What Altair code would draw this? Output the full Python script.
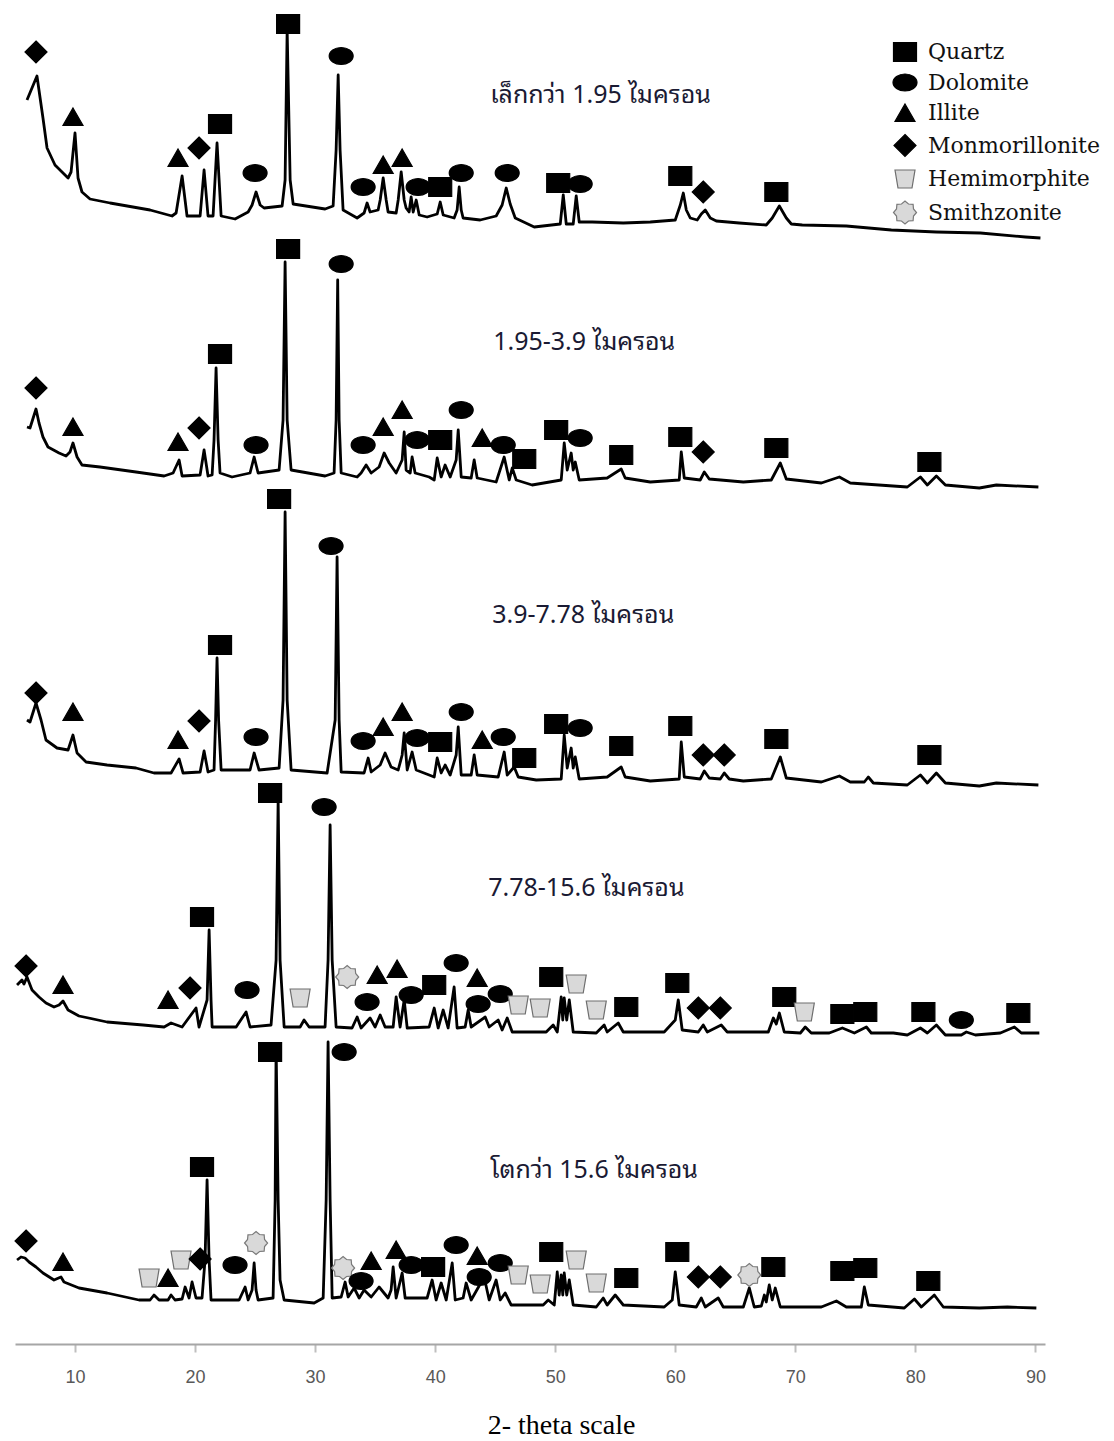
import altair as alt
import pandas as pd

# ---------------- data ----------------
# (2-theta in degrees, stacked intensity in arbitrary units)
P1_trace = [(6.00,1244),(6.83,1268),(7.33,1226),(7.67,1196),(8.33,1179),(9.42,1166),(9.67,1172),(10.00,1211),(10.25,1166),(10.58,1152),(11.25,1145),(12.92,1141),(16.25,1134),(18.08,1128),(18.42,1131),(18.92,1168),(19.33,1128),(20.42,1128),(20.75,1174),(21.08,1128),(21.50,1128),(21.83,1201),(22.17,1128),(23.33,1125),(24.42,1132),(24.75,1139),(25.08,1152),(25.42,1139),(25.75,1136),(27.25,1138),(27.50,1164),(27.67,1314),(27.92,1164),(28.17,1140),(30.83,1135),(31.50,1138),(31.75,1194),(31.92,1269),(32.08,1194),(32.33,1134),(33.50,1126),(34.08,1131),(34.33,1141),(34.58,1132),(35.25,1134),(35.42,1144),(35.67,1166),(35.92,1144),(36.08,1132),(36.75,1131),(36.92,1144),(37.17,1172),(37.42,1144),(37.58,1136),(37.83,1132),(38.00,1147),(38.17,1132),(38.42,1144),(38.67,1129),(39.33,1127),(40.17,1130),(40.42,1142),(40.67,1129),(41.58,1126),(41.83,1134),(42.00,1157),(42.17,1134),(42.33,1126),(43.75,1124),(45.08,1128),(45.58,1139),(45.92,1156),(46.25,1140),(46.67,1126),(48.25,1117),(50.42,1120),(50.67,1149),(50.92,1120),(51.50,1120),(51.75,1148),(52.00,1122),(53.08,1122),(55.67,1121),(57.92,1122),(60.00,1124),(60.42,1139),(60.67,1151),(60.92,1134),(61.25,1126),(61.83,1124),(62.17,1130),(62.50,1134),(62.92,1126),(63.42,1123),(65.33,1121),(67.58,1119),(68.08,1126),(68.67,1138),(69.25,1126),(69.67,1120),(70.58,1119),(74.25,1118),(78.00,1114),(81.75,1112),(85.42,1111),(89.17,1107),(90.42,1106)]

P2_trace = [(6.00,917),(6.25,916),(6.75,935),(7.00,921),(7.33,907),(7.75,897),(8.67,891),(9.25,888),(9.58,892),(9.83,901),(10.17,887),(10.58,879),(12.08,877),(15.08,872),(17.42,868),(18.17,871),(18.67,884),(18.92,868),(20.42,869),(20.75,894),(21.08,868),(21.42,869),(21.58,904),(21.75,976),(21.92,904),(22.08,871),(23.08,867),(24.58,871),(24.92,887),(25.25,871),(27.00,874),(27.33,924),(27.50,1082),(27.67,924),(28.00,874),(30.83,868),(31.58,871),(31.75,924),(31.88,1064),(32.00,924),(32.17,871),(33.50,867),(33.83,871),(34.25,879),(34.67,871),(35.33,877),(35.75,891),(36.17,881),(36.75,871),(37.25,884),(37.42,912),(37.58,874),(37.92,871),(38.08,887),(38.33,871),(39.50,867),(39.92,864),(40.17,886),(40.50,867),(40.83,879),(41.25,867),(41.75,884),(41.92,914),(42.17,867),(43.00,866),(43.25,884),(43.50,866),(45.08,862),(45.75,887),(46.17,864),(46.42,876),(46.75,864),(48.08,859),(50.50,864),(50.75,901),(51.00,874),(51.33,891),(51.50,874),(51.67,882),(52.00,864),(54.33,866),(55.50,875),(55.83,866),(57.92,862),(60.33,864),(60.50,892),(60.75,866),(62.08,864),(62.42,872),(62.83,865),(65.67,862),(68.00,864),(68.75,881),(69.25,865),(72.17,861),(73.67,867),(74.58,861),(79.33,857),(80.42,867),(81.00,859),(81.75,868),(82.50,859),(85.33,856),(86.75,859),(90.25,857)]

P3_trace = [(6.00,624),(6.25,622),(6.75,641),(7.17,624),(7.58,604),(8.50,596),(9.42,594),(9.83,609),(10.17,591),(10.92,582),(12.67,579),(15.08,576),(16.58,571),(18.00,571),(18.67,585),(19.00,571),(20.42,572),(20.75,593),(21.08,572),(21.58,574),(21.71,624),(21.83,686),(21.96,624),(22.17,574),(24.58,574),(24.92,591),(25.33,574),(27.00,576),(27.33,644),(27.50,832),(27.67,644),(28.00,574),(31.00,571),(31.67,624),(31.83,787),(32.00,624),(32.17,572),(34.08,571),(34.42,586),(34.67,572),(35.42,579),(35.83,591),(36.33,577),(36.92,574),(37.25,589),(37.42,611),(37.67,574),(38.08,592),(38.42,574),(39.50,569),(39.92,567),(40.17,586),(40.50,571),(40.83,579),(41.25,569),(41.75,589),(41.92,617),(42.17,569),(43.00,569),(43.25,589),(43.50,569),(45.25,567),(45.75,592),(46.00,569),(46.58,577),(46.92,567),(48.42,564),(50.50,565),(50.75,609),(51.00,576),(51.33,596),(51.50,576),(51.67,587),(52.00,565),(54.33,567),(55.50,577),(55.83,567),(57.92,563),(60.33,565),(60.50,602),(60.75,567),(62.08,565),(62.42,573),(62.83,566),(63.75,565),(64.08,571),(64.50,565),(65.67,563),(68.00,565),(68.75,587),(69.25,566),(72.17,562),(73.67,568),(74.58,562),(75.75,562),(76.08,567),(76.50,561),(79.33,559),(80.42,569),(81.00,561),(81.75,571),(82.50,561),(85.33,558),(86.75,561),(90.25,559)]

P4_trace = [(5.17,359),(5.58,364),(5.75,360),(6.00,367),(6.42,354),(7.00,347),(7.58,341),(8.25,337),(8.67,339),(9.00,343),(9.42,334),(10.33,328),(12.67,322),(15.67,319),(17.42,317),(18.00,321),(18.92,317),(20.08,336),(20.33,317),(21.00,344),(21.17,414),(21.33,344),(21.42,317),(23.42,317),(24.25,332),(24.58,317),(26.33,319),(26.75,384),(26.92,544),(27.08,384),(27.42,317),(28.75,317),(29.08,324),(29.50,317),(30.83,317),(31.08,384),(31.25,519),(31.42,384),(31.75,317),(33.08,316),(33.50,327),(33.83,316),(34.58,326),(35.00,317),(35.42,329),(35.83,317),(36.50,317),(36.75,347),(37.08,317),(37.42,344),(37.67,316),(39.50,317),(39.92,336),(40.25,316),(40.67,334),(41.08,316),(41.58,357),(41.83,316),(42.50,317),(42.75,334),(43.00,317),(44.17,327),(44.50,317),(45.25,324),(45.58,314),(46.00,326),(46.42,312),(49.25,312),(49.83,319),(50.17,312),(50.50,347),(50.63,324),(50.75,346),(50.96,324),(51.17,344),(51.50,312),(53.42,311),(54.08,319),(54.33,312),(55.25,321),(55.67,312),(59.08,312),(60.00,324),(60.25,344),(60.58,314),(61.92,312),(62.33,319),(62.67,312),(63.83,319),(64.33,312),(67.75,312),(68.17,326),(68.42,320),(68.67,331),(69.08,312),(70.42,311),(70.83,317),(71.33,311),(72.83,311),(73.92,316),(74.92,311),(75.92,317),(76.33,311),(78.17,311),(79.33,309),(80.42,316),(81.00,311),(81.75,319),(82.50,309),(83.83,309),(84.25,312),(85.00,309),(87.08,311),(88.25,317),(88.83,311),(90.33,311)]

P5_trace = [(5.17,84),(5.50,87),(5.83,86),(6.17,82),(6.75,77),(7.33,71),(8.25,64),(8.83,67),(9.08,62),(10.33,56),(12.67,51),(15.33,44),(16.25,44),(16.58,49),(17.00,44),(17.75,44),(18.00,49),(18.33,44),(18.92,45),(19.17,57),(19.50,46),(19.75,62),(20.08,46),(20.58,46),(20.83,84),(21.00,164),(21.17,84),(21.33,44),(23.67,44),(24.17,57),(24.42,44),(24.75,54),(24.92,81),(25.08,54),(25.25,44),(26.50,46),(26.67,144),(26.75,299),(26.92,144),(27.08,64),(27.25,54),(27.42,44),(29.92,41),(30.67,46),(30.92,144),(31.08,302),(31.25,144),(31.42,46),(32.17,47),(32.50,62),(32.75,47),(33.25,56),(33.67,46),(34.08,54),(34.67,47),(35.33,57),(36.08,46),(36.33,54),(36.50,77),(36.75,46),(37.25,71),(37.50,46),(39.33,46),(39.75,64),(40.08,44),(40.50,61),(40.92,44),(41.42,81),(41.67,44),(42.33,46),(42.58,61),(43.00,44),(44.08,67),(44.50,44),(45.08,64),(45.42,44),(45.83,51),(46.33,39),(49.00,39),(49.42,44),(49.92,39),(50.17,72),(50.33,49),(50.50,69),(50.63,49),(50.75,71),(50.96,49),(51.17,64),(51.50,39),(53.42,37),(54.00,46),(54.33,39),(55.00,49),(55.67,39),(59.08,37),(59.75,44),(60.00,72),(60.33,39),(61.75,37),(62.17,46),(62.50,37),(63.58,46),(64.00,37),(65.67,37),(66.17,56),(66.58,37),(67.17,38),(67.42,49),(67.58,42),(67.83,59),(68.08,44),(68.33,56),(68.75,37),(72.17,37),(73.42,43),(74.25,37),(75.50,37),(75.75,57),(76.08,39),(79.08,36),(79.92,45),(80.50,37),(81.58,49),(82.33,37),(85.33,36),(87.67,37),(90.08,36)]

# phase markers: (mineral, 2-theta, intensity)
M1 = [("Monmorillonite",6.75,1292),("Illite",9.83,1227),("Illite",18.58,1186),("Monmorillonite",20.33,1196),("Quartz",22.08,1220),("Dolomite",25.00,1171),("Quartz",27.75,1320),("Dolomite",32.17,1288),("Dolomite",34.00,1157),("Illite",35.67,1179),("Illite",37.25,1186),("Dolomite",38.58,1157),("Quartz",40.42,1157),("Dolomite",42.17,1171),("Dolomite",46.00,1171),("Quartz",50.25,1161),("Dolomite",52.08,1160),("Quartz",60.42,1168),("Monmorillonite",62.33,1152),("Quartz",68.42,1152)]
M2 = [("Monmorillonite",6.75,956),("Illite",9.83,917),("Illite",18.58,902),("Monmorillonite",20.33,916),("Quartz",22.08,990),("Dolomite",25.08,899),("Quartz",27.75,1095),("Dolomite",32.17,1080),("Dolomite",34.00,899),("Illite",35.67,917),("Illite",37.25,934),("Dolomite",38.50,904),("Quartz",40.42,904),("Dolomite",42.17,934),("Illite",43.92,906),("Dolomite",45.67,899),("Quartz",47.42,885),("Quartz",50.08,914),("Dolomite",52.08,906),("Quartz",55.50,889),("Quartz",60.42,907),("Monmorillonite",62.33,892),("Quartz",68.42,896),("Quartz",81.17,882)]
M3 = [("Monmorillonite",6.75,651),("Illite",9.83,632),("Illite",18.58,604),("Monmorillonite",20.33,623),("Quartz",22.08,699),("Dolomite",25.08,607),("Quartz",27.00,845),("Dolomite",31.33,798),("Dolomite",34.00,603),("Illite",35.67,617),("Illite",37.25,632),("Dolomite",38.50,606),("Quartz",40.42,602),("Dolomite",42.17,632),("Illite",43.92,604),("Dolomite",45.67,607),("Quartz",47.42,586),("Quartz",50.08,620),("Dolomite",52.08,616),("Quartz",55.50,598),("Quartz",60.42,618),("Monmorillonite",62.33,589),("Monmorillonite",64.08,589),("Quartz",68.42,605),("Quartz",81.17,589)]
M4 = [("Monmorillonite",5.92,378),("Illite",9.00,359),("Illite",17.75,344),("Monmorillonite",19.58,356),("Quartz",20.58,427),("Dolomite",24.33,354),("Quartz",26.25,551),("Hemimorphite",28.75,346),("Dolomite",30.75,537),("Smithzonite",32.67,367),("Dolomite",34.33,342),("Illite",35.17,369),("Illite",36.83,375),("Dolomite",38.00,349),("Quartz",39.92,359),("Dolomite",41.75,381),("Illite",43.50,366),("Dolomite",43.58,340),("Dolomite",45.42,350),("Hemimorphite",46.92,339),("Hemimorphite",48.75,336),("Quartz",49.67,367),("Hemimorphite",51.75,360),("Hemimorphite",53.42,334),("Quartz",55.92,337),("Quartz",60.17,361),("Monmorillonite",61.92,336),("Monmorillonite",63.75,336),("Quartz",69.08,347),("Hemimorphite",70.75,332),("Quartz",73.92,330),("Quartz",75.83,332),("Quartz",80.67,332),("Dolomite",83.83,324),("Quartz",88.58,331)]
M5 = [("Monmorillonite",5.92,103),("Illite",9.00,82),("Hemimorphite",16.17,66),("Illite",17.75,66),("Hemimorphite",18.83,84),("Monmorillonite",20.42,85),("Quartz",20.58,177),("Dolomite",23.33,79),("Smithzonite",25.08,101),("Quartz",26.25,292),("Dolomite",32.42,292),("Smithzonite",32.33,76),("Dolomite",33.83,63),("Illite",34.67,83),("Illite",36.75,94),("Dolomite",38.00,79),("Quartz",39.83,77),("Dolomite",41.75,99),("Illite",43.50,88),("Dolomite",43.67,67),("Dolomite",45.42,81),("Hemimorphite",46.92,69),("Hemimorphite",48.75,60),("Quartz",49.67,92),("Hemimorphite",51.75,84),("Hemimorphite",53.42,61),("Quartz",55.92,66),("Quartz",60.17,92),("Monmorillonite",61.92,67),("Monmorillonite",63.75,67),("Smithzonite",66.17,69),("Quartz",68.17,77),("Quartz",73.92,73),("Quartz",75.83,76),("Quartz",81.08,63)]

pattern_labels = ["เล็กกว่า 1.95 ไมครอน", "1.95-3.9 ไมครอน", "3.9-7.78 ไมครอน",
                  "7.78-15.6 ไมครอน", "โตกว่า 15.6 ไมครอน"]
label_2theta = [44.58, 44.83, 44.75, 44.42, 44.58]
label_intensity = [1249, 1002, 729, 456, 174]

minerals = ["Quartz", "Dolomite", "Illite", "Monmorillonite", "Hemimorphite", "Smithzonite"]
x_ticks = [10, 20, 30, 40, 50, 60, 70, 80, 90]

# ---------------- tables ----------------
traces = [P1_trace, P2_trace, P3_trace, P4_trace, P5_trace]
rows = []
for p, tr in enumerate(traces):
    for i, (t, v) in enumerate(tr):
        rows.append({"pattern": p, "seq": i, "two_theta": t, "intensity": v})
trace_df = pd.DataFrame(rows)

mrows = []
for p, ms in enumerate([M1, M2, M3, M4, M5]):
    for (m, t, v) in ms:
        mrows.append({"pattern": p, "mineral": m, "two_theta": t, "intensity": v})
marker_df = pd.DataFrame(mrows)

label_df = pd.DataFrame({"label": pattern_labels, "two_theta": label_2theta,
                         "intensity": label_intensity})

# ---------------- styling ----------------
shape_paths = [
    "M-1.15,-0.95L1.15,-0.95L1.15,0.95L-1.15,0.95Z",
    "M-1.2,0A1.2,0.85,0,1,1,1.2,0A1.2,0.85,0,1,1,-1.2,0Z",
    "M0,-0.9L1,0.85L-1,0.85Z",
    "M0,-1.1L1.1,0L0,1.1L-1.1,0Z",
    "M-1,-0.9L1,-0.9L0.7,0.9L-0.7,0.9Z",
    "M1.15,0L0.85,0.35L0.81,0.81L0.35,0.85L0,1.15L-0.35,0.85L-0.81,0.81L-0.85,0.35L-1.15,0L-0.85,-0.35L-0.81,-0.81L-0.35,-0.85L0,-1.15L0.35,-0.85L0.81,-0.81L0.85,-0.35Z",
]
fills = ["#000000", "#000000", "#000000", "#000000", "#d9d9d9", "#d9d9d9"]
strokes = ["#000000", "#000000", "#000000", "#000000", "#6e6e6e", "#7a7a7a"]

x_scale = alt.Scale(domain=[5, 90.8], nice=False, zero=False)
y_scale = alt.Scale(domain=[0, 1336], nice=False, zero=False)

x_axis = alt.Axis(values=x_ticks, grid=False, domainColor="#a6a6a6", domainWidth=2,
                  tickColor="#bfbfbf", tickWidth=2, tickSize=8,
                  labelFont="Liberation Sans Narrow, Liberation Sans, sans-serif",
                  labelFontSize=18, labelColor="#595959", labelPadding=16, labelFlush=False,
                  titleFont="Liberation Serif", titleFontSize=28, titleFontWeight="normal",
                  titleColor="#000000", titleX=546, titleY=89, titleAlign="center",
                  titleBaseline="alphabetic")


def xenc():
    return alt.X("two_theta:Q", scale=x_scale, axis=x_axis, title="2- theta scale")


def yenc():
    return alt.Y("intensity:Q", scale=y_scale, axis=None)


lines = alt.Chart(trace_df).mark_line(color="black", strokeWidth=2.8, strokeJoin="round").encode(
    x=xenc(), y=yenc(), detail="pattern:N", order="seq:Q")

leg = alt.Legend(orient="none", legendX=879, legendY=33, title=None,
                 labelFont="DejaVu Serif", labelFontSize=22, labelColor="#111111",
                 labelLimit=400, symbolSize=400, rowPadding=7.5, labelOffset=12,
                 symbolStrokeWidth=1.2, symbolOpacity=1)

markers = alt.Chart(marker_df).mark_point(filled=True, size=400, strokeWidth=1.2, opacity=1).encode(
    x=xenc(), y=yenc(),
    shape=alt.Shape("mineral:N", scale=alt.Scale(domain=minerals, range=shape_paths), legend=leg),
    fill=alt.Fill("mineral:N", scale=alt.Scale(domain=minerals, range=fills), legend=leg),
    stroke=alt.Stroke("mineral:N", scale=alt.Scale(domain=minerals, range=strokes), legend=leg),
)

labels = alt.Chart(label_df).mark_text(align="left", baseline="middle", fontSize=25,
                                       font="Tahoma, Noto Sans Thai Looped, Noto Sans Thai, Loma, Garuda, Noto Sans, sans-serif",
                                       color="#1a1a33").encode(
    x=xenc(), y=yenc(), text="label:N")

chart = alt.layer(lines, markers, labels).properties(
    width=1030, height=1336,
    padding={"left": 4, "top": 0, "right": 0, "bottom": 0},
).configure_view(stroke=None)

chart.save("out.html", embed_options={"renderer": "svg", "actions": False})
